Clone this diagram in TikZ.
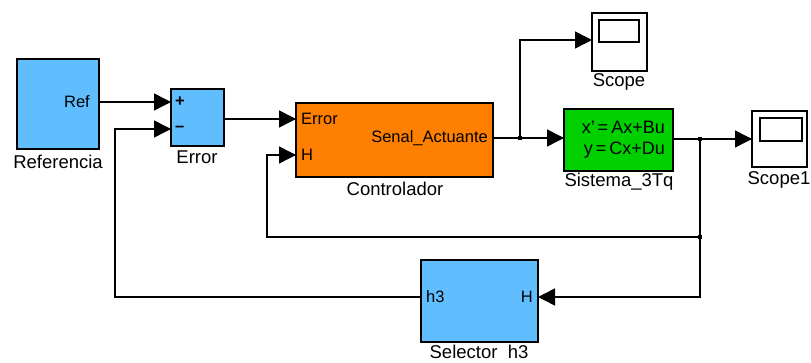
\documentclass[tikz,border=0pt]{standalone}
\usepackage{fontspec}
\setmainfont{Liberation Sans}
\usetikzlibrary{arrows.meta,calc}
\definecolor{sblue}{RGB}{96,190,255}
\definecolor{sorange}{RGB}{255,128,0}
\definecolor{sgreen}{RGB}{0,208,0}
\begin{document}
\begin{tikzpicture}[x=1pt,y=-1pt,
  blk/.style={draw=black,line width=1.6pt,inner sep=0pt,outer sep=0pt},
  wire/.style={line width=1.5pt},
  arr/.style={wire,-{Triangle[length=17pt,width=17pt]}},
  lab/.style={font=\fontsize{18.5}{18.5}\selectfont,inner sep=0pt},
  port/.style={font=\fontsize{16.5}{16.5}\selectfont,inner sep=0pt},
  eq/.style={font=\fontsize{18}{18}\selectfont,inner sep=0pt},
  dot/.style={fill=black,minimum size=4.5pt,inner sep=0pt}]
\useasboundingbox (0,0) rectangle (811,363);
% blocks
\node[blk,fill=sblue,minimum width=82pt,minimum height=90pt] (ref) at (58,104) {};
\node[blk,fill=sblue,minimum width=53pt,minimum height=57pt] (err) at (197.5,117.5) {};
\node[blk,fill=sorange,minimum width=197pt,minimum height=74pt] (ctrl) at (394.5,140) {};
\node[blk,fill=sgreen,minimum width=109pt,minimum height=62pt] (sys) at (618.5,140) {};
\node[blk,fill=white,minimum width=55pt,minimum height=58pt] (scope) at (619.5,42) {};
\node[blk,fill=white,minimum width=40pt,minimum height=22pt] (scopein) at (619,31) {};
\node[blk,fill=white,minimum width=55pt,minimum height=56pt] (scope1) at (779.5,139) {};
\node[blk,fill=white,minimum width=42pt,minimum height=23pt] (scope1in) at (781,129.5) {};
\node[blk,fill=sblue,minimum width=117pt,minimum height=82pt] (sel) at (479.5,301) {};
% port labels
\node[port,anchor=east] (pref) at (90,102) {Ref};
\node[port,anchor=west] (pplus) at (175,102) {\textbf{+}};
\node[port,anchor=west] (pminus) at (175,129) {\textbf{–}};
\node[port,anchor=west] (perr) at (301,119) {Error};
\node[port,anchor=west] (pH) at (301,155) {H};
\node[port,anchor=east] (pact) at (488,138) {Senal\_Actuante};
\node[port,anchor=west] (ph3) at (426,297) {h3};
\node[port,anchor=east] (pselH) at (533,297) {H};
\node[eq,anchor=east] (peq1) at (665,127) {x'\,=\,Ax+Bu};
\node[eq,anchor=east] (peq2) at (665,150) {y\,=\,Cx+Du};
% block labels
\node[lab] (lref) at (58,162) {Referencia};
\node[lab] (lerr) at (197,157) {Error};
\node[lab] (lctrl) at (395,189) {Controlador};
\node[lab] (lscope) at (619,82) {Scope};
\node[lab] (lsys) at (619,182) {Sistema\_3Tq};
\node[lab] (lscope1) at (779,180) {Scope1};
\node[lab] (lsel) at (479,352) {Selector\ \ h3};
% branch points
\coordinate (b1) at (520,138);
\coordinate (b2) at (700,139);
\coordinate (b3) at (700,237);
\coordinate (c1) at (520,40);
\coordinate (c2) at (267,237);
\coordinate (c3) at (267,155);
\coordinate (c4) at (115,297);
\coordinate (c5) at (115,129);
\coordinate (c6) at (700,297);
% connectors
\draw[arr] (ref.east |- pref) -- (err.west |- pref);
\draw[arr] (err.east |- perr) -- (ctrl.west |- perr);
\draw[wire] (ctrl.east |- b1) -- (b1);
\draw[arr] (b1) -- (sys.west |- b1);
\draw[arr] (b1) -- (c1) -- (scope.west |- c1);
\draw[wire] (sys.east |- b2) -- (b2);
\draw[arr] (b2) -- (scope1.west |- b2);
\draw[wire] (b2) -- (b3);
\draw[arr] (b3) -- (c6) -- (sel.east |- c6);
\draw[arr] (b3) -- (c2) -- (c3) -- (ctrl.west |- c3);
\draw[arr] (sel.west |- c4) -- (c4) -- (c5) -- (err.west |- c5);
\node[dot] at (b1) {};
\node[dot] at (b2) {};
\node[dot] at (b3) {};
\end{tikzpicture}
\end{document}
